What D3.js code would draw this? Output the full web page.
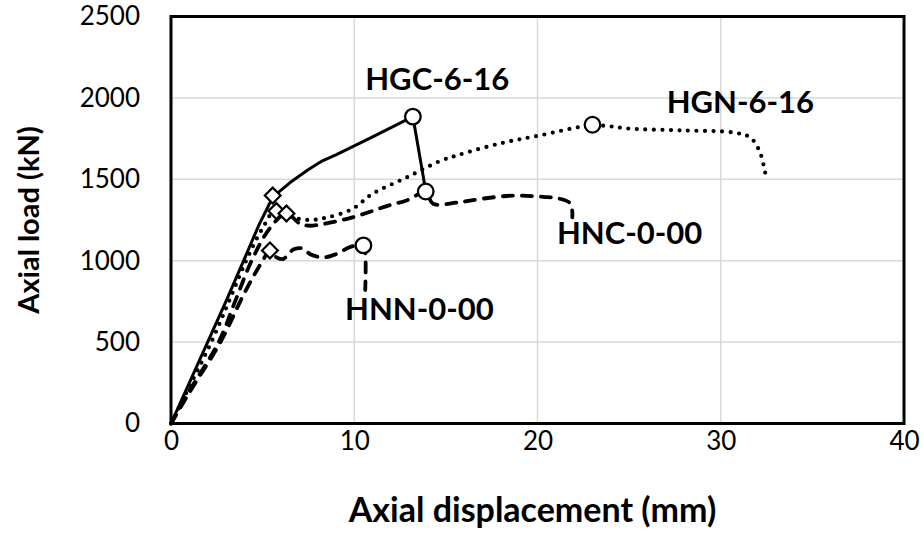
<!DOCTYPE html>
<html>
<head>
<meta charset="utf-8">
<script src="https://cdn.jsdelivr.net/npm/d3@7"></script>
<style>
  html, body { margin: 0; padding: 0; background: #fff; }
  svg { display: block; }
</style>
</head>
<body>
<svg id="chart" width="924" height="556"></svg>
<script>
// ---------------- data ----------------
const xTicks = [0, 10, 20, 30, 40];
const yTicks = [0, 500, 1000, 1500, 2000, 2500];

const seriesNames = ["HGC-6-16", "HGN-6-16", "HNC-0-00", "HNN-0-00"];

const hgcDisp = [0, 1, 2, 3, 4, 4.8, 5.55, 6.5, 7.5, 8.2, 9, 11, 13.2, 13.9];
const hgcLoad = [0, 250, 500, 750, 1010, 1220, 1390, 1480, 1560, 1610, 1650, 1760, 1885, 1430];

const hgnDisp = [0, 1, 2.2, 3.2, 4.1, 5, 5.7, 6.5, 7.5, 8.5, 9.9, 11, 12.85, 14.7, 15.7, 17.95, 20.1, 23, 25.2, 28, 30.7, 31.6, 32.1, 32.4, 32.5];
const hgnLoad = [0, 225, 500, 760, 1000, 1200, 1310, 1270, 1250, 1265, 1318, 1411, 1511, 1613, 1650, 1720, 1769, 1830, 1810, 1800, 1787, 1757, 1677, 1554, 1493];

const hncDisp = [0, 1, 2.6, 3.5, 4.4, 5.4, 6.3, 7.0, 7.5, 8.3, 9.9, 11.9, 12.85, 13.9, 14.3, 15.6, 17, 18.7, 20.3, 21.2, 21.8, 21.9];
const hncLoad = [0, 200, 500, 750, 1000, 1200, 1290, 1230, 1215, 1225, 1266, 1340, 1370, 1420, 1350, 1357, 1381, 1400, 1392, 1381, 1350, 1266];

const hnnDisp = [0, 1, 2.7, 4, 5.0, 5.4, 5.7, 6.1, 6.7, 7.2, 7.6, 8.3, 9.0, 9.8, 10.5, 10.6, 10.6];
const hnnLoad = [0, 190, 500, 800, 1000, 1063, 1025, 1010, 1070, 1075, 1040, 1020, 1040, 1085, 1094, 1050, 820];

// special points: first peak (diamond) and ultimate point (circle)
const diamondDisp = [5.55, 5.75, 6.3, 5.4];
const diamondLoad = [1400, 1305, 1290, 1063];
const circleDisp = [13.2, 23.0, 13.9, 10.5];
const circleLoad = [1885, 1835, 1425, 1094];

// ---------------- chart ----------------
const svg = d3.select("#chart");
const pLeft = 171, pRight = 904, pTop = 16.5, pBottom = 423.5;

const x = d3.scaleLinear().domain([0, 40]).range([pLeft, pRight]);
const y = d3.scaleLinear().domain([0, 2500]).range([pBottom, pTop]);

const FONT = "Lato, 'Open Sans', 'Liberation Sans', sans-serif";

// gridlines
const grid = svg.append("g");
grid.selectAll("line.h").data(yTicks.slice(1, -1)).enter().append("line")
  .attr("x1", pLeft).attr("x2", pRight)
  .attr("y1", d => y(d)).attr("y2", d => y(d))
  .attr("stroke", "#d9d9d9").attr("stroke-width", 1.5);
grid.selectAll("line.v").data(xTicks.slice(1, -1)).enter().append("line")
  .attr("y1", pTop).attr("y2", pBottom)
  .attr("x1", d => x(d)).attr("x2", d => x(d))
  .attr("stroke", "#d9d9d9").attr("stroke-width", 1.5);

// axes (labels only)
const xAxis = svg.append("g").attr("transform", `translate(0,${pBottom})`)
  .call(d3.axisBottom(x).tickValues(xTicks).tickFormat(d3.format("d")).tickSize(0).tickPadding(8));
const yAxis = svg.append("g").attr("transform", `translate(${pLeft},0)`)
  .call(d3.axisLeft(y).tickValues(yTicks).tickFormat(d3.format("d")).tickSize(0).tickPadding(31));
[xAxis, yAxis].forEach(a => {
  a.select(".domain").remove();
  a.selectAll("text").attr("font-family", FONT).attr("font-size", 26).attr("fill", "#000");
});

// series lines
const smooth = d3.line().x(d => x(d[0])).y(d => y(d[1])).curve(d3.curveCatmullRom.alpha(0.5));
const straight = d3.line().x(d => x(d[0])).y(d => y(d[1]));
const zip = (a, b) => a.map((v, i) => [v, b[i]]);
const series = [
  { pts: zip(hgcDisp, hgcLoad), gen: straight, dash: null, w: 3 },
  { pts: zip(hgnDisp, hgnLoad), gen: smooth, dash: "0 8.5", w: 4.2 },
  { pts: zip(hncDisp, hncLoad), gen: smooth, dash: "10 9", w: 3.8 },
  { pts: zip(hnnDisp, hnnLoad), gen: smooth, dash: "10 9", w: 3.8 }
];
svg.append("g").selectAll("path").data(series).enter().append("path")
  .attr("d", d => d.gen(d.pts))
  .attr("fill", "none").attr("stroke", "#000")
  .attr("stroke-width", d => d.w)
  .attr("stroke-linecap", "round")
  .attr("stroke-linejoin", "round")
  .attr("stroke-dasharray", d => d.dash);

// markers
const dm = zip(diamondDisp, diamondLoad);
svg.append("g").selectAll("path").data(dm).enter().append("path")
  .attr("d", d3.symbol().type(d3.symbolSquare).size(125))
  .attr("transform", d => `translate(${x(d[0])},${y(d[1])}) rotate(45)`)
  .attr("fill", "#fff").attr("stroke", "#000").attr("stroke-width", 2.2);
const cm = zip(circleDisp, circleLoad);
svg.append("g").selectAll("circle").data(cm).enter().append("circle")
  .attr("cx", d => x(d[0])).attr("cy", d => y(d[1])).attr("r", 7.8)
  .attr("fill", "#fff").attr("stroke", "#000").attr("stroke-width", 2.3);

// frame
svg.append("rect").attr("x", pLeft).attr("y", pTop)
  .attr("width", pRight - pLeft).attr("height", pBottom - pTop)
  .attr("fill", "none").attr("stroke", "#000").attr("stroke-width", 3);

// series labels (anchored in data units)
const labelAt = [[10.6, 2046], [27.05, 1905], [21.06, 1101], [9.5, 635]];
svg.append("g").selectAll("text").data(seriesNames).enter().append("text")
  .attr("x", (d, i) => x(labelAt[i][0])).attr("y", (d, i) => y(labelAt[i][1]))
  .attr("font-family", FONT).attr("font-weight", "bold").attr("font-size", 31)
  .attr("fill", "#000").text(d => d);

// axis titles
svg.append("text").attr("x", (pLeft + pRight) / 2 - 5).attr("y", 522)
  .attr("text-anchor", "middle").attr("font-family", FONT).attr("font-weight", "bold")
  .attr("font-size", 34).text("Axial displacement (mm)");
svg.append("text").attr("transform", `translate(39,${(pTop + pBottom) / 2}) rotate(-90)`)
  .attr("text-anchor", "middle").attr("font-family", FONT).attr("font-weight", "bold")
  .attr("font-size", 29).text("Axial load (kN)");
</script>
</body>
</html>
